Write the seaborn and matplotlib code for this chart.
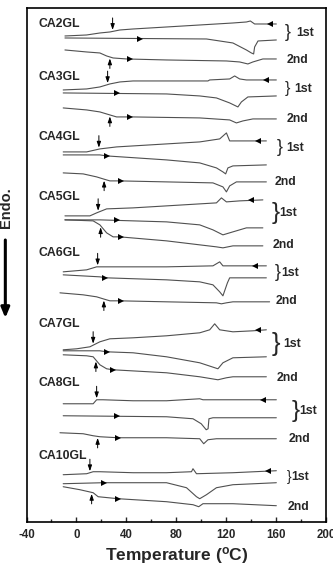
import numpy as np
import pandas as pd
import matplotlib
matplotlib.use("Agg")
import matplotlib.pyplot as plt
from matplotlib.ticker import MultipleLocator
import seaborn as sns

# --------------------------
# DSC traces (T in degC, heat flow in a.u., offset per sample)
# a = 1st cooling (left arrow), b = 1st heating, c = 2nd heating
# --------------------------
samples = ["CA2GL", "CA3GL", "CA4GL", "CA5GL", "CA6GL", "CA7GL", "CA8GL", "CA10GL"]

ca2_a_t = [-9.2, 8.2, 18.8, 26.8, 34.8, 45.4, 72.2, 98.8, 125.4, 136.2, 139.4, 142.8, 160.2]
ca2_a = [48.6, 48.7, 48.9, 49.0, 49.2, 49.3, 49.5, 49.7, 49.9, 50.0, 50.1, 49.8, 49.8]
ca2_b_t = [-9.2, 104.2, 125.4, 136.2, 140.2, 142.0, 142.8, 145.5, 160.2]
ca2_b = [48.4, 48.3, 47.9, 47.2, 46.9, 46.8, 47.5, 48.1, 48.2]
ca2_c_t = [-9.2, 8.2, 18.8, 24.2, 29.4, 40.2, 72.2, 120.2, 130.8, 137.4, 141.4, 149.4, 160.2]
ca2_c = [47.2, 47.0, 46.9, 46.6, 46.4, 46.3, 46.2, 46.1, 46.0, 45.8, 46.0, 46.3, 46.3]

ca3_a_t = [-10.6, 8.2, 18.8, 26.8, 34.8, 45.4, 72.2, 105.4, 106.8, 122.8, 126.8, 130.8, 136.2, 160.2]
ca3_a = [43.2, 43.3, 43.5, 43.8, 44.0, 44.1, 44.1, 44.1, 44.2, 44.3, 44.6, 44.3, 44.2, 44.2]
ca3_b_t = [-10.6, 72.2, 98.8, 112.2, 122.8, 129.4, 132.2, 137.4, 160.2]
ca3_b = [42.9, 42.8, 42.6, 42.4, 41.9, 41.5, 42.0, 42.5, 42.6]
ca3_c_t = [-10.6, 8.2, 18.8, 26.8, 32.2, 45.4, 98.8, 122.8, 128.2, 133.4, 141.4, 160.2]
ca3_c = [41.4, 41.2, 41.0, 40.7, 40.5, 40.5, 40.4, 40.2, 39.9, 40.1, 40.3, 40.3]

ca4_a_t = [-10.6, 8.2, 18.8, 32.2, 58.8, 98.8, 114.8, 120.2, 122.8, 152.2]
ca4_a = [37.0, 37.0, 37.3, 37.5, 37.7, 38.0, 38.3, 38.9, 38.1, 38.1]
ca4_b_t = [-10.6, 18.8, 24.2, 72.2, 98.8, 112.2, 117.4, 119.6, 121.4, 125.4, 152.2]
ca4_b = [36.7, 36.7, 36.6, 36.2, 35.9, 35.4, 35.0, 34.8, 35.4, 35.6, 35.7]
ca4_c_t = [-10.6, 5.4, 16.2, 21.4, 26.8, 34.8, 72.2, 109.4, 117.4, 120.2, 122.8, 128.2, 152.2]
ca4_c = [34.9, 34.8, 34.5, 34.3, 34.1, 34.1, 34.0, 33.9, 33.5, 33.0, 33.6, 34.0, 34.0]

ca5_a_t = [-9.2, 10.8, 16.2, 24.2, 45.4, 72.2, 98.8, 112.2, 116.2, 120.2, 130.8, 149.4]
ca5_a = [30.6, 30.6, 30.9, 31.3, 31.4, 31.6, 31.8, 31.9, 32.4, 32.0, 32.1, 32.2]
ca5_b_t = [-9.2, 18.8, 72.2, 98.8, 109.4, 117.4, 125.4, 136.2, 149.4]
ca5_b = [30.2, 30.2, 30.0, 29.7, 29.2, 28.7, 29.0, 29.4, 29.4]
ca5_c_t = [-9.2, 13.4, 18.8, 24.2, 29.4, 34.8, 72.2, 98.8, 112.2, 117.4, 125.4, 149.4]
ca5_c = [30.2, 30.1, 29.7, 28.9, 28.5, 28.5, 28.1, 27.7, 27.5, 27.4, 27.6, 27.6]

ca6_a_t = [-10.6, 8.2, 16.2, 24.2, 72.2, 109.4, 114.8, 117.4, 152.2]
ca6_a = [25.0, 25.2, 25.5, 25.5, 25.5, 25.6, 26.0, 25.6, 25.6]
ca6_b_t = [-10.6, 18.8, 24.2, 72.2, 98.8, 109.4, 114.8, 117.4, 121.0, 122.8, 152.2]
ca6_b = [24.7, 24.5, 24.4, 24.2, 24.0, 23.7, 23.0, 22.6, 23.9, 24.4, 24.4]
ca6_c_t = [-13.2, 5.4, 16.2, 21.4, 26.8, 34.8, 72.2, 112.2, 116.2, 120.2, 125.4, 154.8]
ca6_c = [22.9, 22.7, 22.5, 22.3, 22.1, 22.1, 22.0, 21.9, 21.8, 21.9, 22.0, 22.0]

ca7_a_t = [-10.6, 0.2, 10.8, 18.8, 26.8, 45.4, 72.2, 98.8, 106.8, 110.8, 114.8, 125.4, 141.4, 152.2]
ca7_a = [17.2, 17.3, 17.5, 18.0, 18.3, 18.4, 18.6, 18.9, 19.2, 19.8, 19.2, 19.0, 19.1, 19.2]
ca7_b_t = [-10.6, 18.8, 24.2, 45.4, 72.2, 98.8, 113.4, 117.4, 125.4, 152.2]
ca7_b = [17.1, 17.1, 17.0, 16.9, 16.5, 15.9, 15.3, 15.9, 16.4, 16.5]
ca7_c_t = [-10.6, 8.2, 13.4, 18.8, 24.2, 29.4, 72.2, 98.8, 113.4, 120.2, 125.4, 152.2]
ca7_c = [16.7, 16.6, 16.5, 15.7, 15.3, 15.2, 14.9, 14.5, 14.2, 14.4, 14.5, 14.5]

ca8_a_t = [-10.6, 13.4, 16.2, 21.4, 45.4, 72.2, 98.8, 101.4, 152.2, 160.2]
ca8_a = [11.8, 11.8, 12.2, 12.2, 12.1, 12.1, 12.3, 12.2, 12.2, 12.2]
ca8_b_t = [-10.6, 72.2, 93.4, 100.0, 104.0, 105.5, 106.2, 109.4, 160.2]
ca8_b = [10.6, 10.5, 10.3, 9.8, 9.2, 9.3, 10.3, 10.4, 10.4]
ca8_c_t = [-13.2, 5.4, 13.4, 18.8, 33.4, 72.2, 98.8, 102.0, 105.4, 112.2, 160.2]
ca8_c = [8.9, 8.8, 8.6, 8.5, 8.4, 8.4, 8.3, 7.8, 8.2, 8.3, 8.3]

ca10_a_t = [-10.6, 8.2, 13.4, 18.8, 45.4, 53.4, 72.2, 92.2, 93.4, 96.2, 125.4, 160.2]
ca10_a = [4.7, 4.8, 5.0, 5.0, 4.9, 4.9, 4.9, 5.0, 5.3, 4.8, 4.9, 5.1]
ca10_b_t = [-10.6, 21.4, 72.2, 88.2, 96.2, 98.8, 104.2, 112.2, 125.4, 160.2]
ca10_b = [3.8, 3.9, 3.9, 3.4, 2.5, 2.3, 2.7, 3.4, 3.7, 3.9]
ca10_c_t = [-10.6, 2.8, 13.4, 17.4, 33.4, 72.2, 93.4, 98.0, 101.4, 125.4, 160.2]
ca10_c = [3.5, 3.2, 2.9, 2.5, 2.3, 2.0, 1.7, 1.5, 1.8, 1.8, 1.6]

# Tg marks (down arrow on 1st cooling, up arrow under 2nd heating)
tg_down = [29.0, 25.0, 18.0, 17.4, 17.0, 13.4, 16.2, 10.8]
tg_up = [26.8, 26.8, 22.2, 19.4, 22.0, 15.6, 17.0, 12.2]

# scan direction marks on each trace
dir_a = [154.8, 152.2, 145.2, 140.2, 142.8, 145.4, 149.4, 153.4]
dir_b = [50.8, 32.2, 24.2, 32.2, 22.8, 24.2, 32.2, 22.0]
dir_c = [42.8, 42.8, 35.4, 35.4, 35.4, 29.4, 33.4, 33.4]

# annotation text placement
label_y = [49.8, 44.5, 38.5, 32.5, 26.9, 19.8, 13.9, 6.6]
brace_x = [166.8, 166.8, 160.2, 156.2, 158.8, 156.2, 172.2, 168.2]
brace_y = [48.9, 43.3, 37.4, 30.9, 24.9, 17.8, 11.1, 4.5]
brace_size = [13, 11.5, 13, 17.5, 13, 18.5, 17.5, 10]
first_x = [176.2, 174.8, 168.2, 162.8, 164.2, 165.4, 178.8, 172.2]
second_x = [168.2, 168.2, 158.8, 157.4, 159.6, 160.2, 170.2, 169.4]
second_y = [46.2, 40.3, 34.0, 27.7, 22.1, 14.4, 8.3, 1.5]

traces = {
    "CA2GL": [(ca2_a_t, ca2_a), (ca2_b_t, ca2_b), (ca2_c_t, ca2_c)],
    "CA3GL": [(ca3_a_t, ca3_a), (ca3_b_t, ca3_b), (ca3_c_t, ca3_c)],
    "CA4GL": [(ca4_a_t, ca4_a), (ca4_b_t, ca4_b), (ca4_c_t, ca4_c)],
    "CA5GL": [(ca5_a_t, ca5_a), (ca5_b_t, ca5_b), (ca5_c_t, ca5_c)],
    "CA6GL": [(ca6_a_t, ca6_a), (ca6_b_t, ca6_b), (ca6_c_t, ca6_c)],
    "CA7GL": [(ca7_a_t, ca7_a), (ca7_b_t, ca7_b), (ca7_c_t, ca7_c)],
    "CA8GL": [(ca8_a_t, ca8_a), (ca8_b_t, ca8_b), (ca8_c_t, ca8_c)],
    "CA10GL": [(ca10_a_t, ca10_a), (ca10_b_t, ca10_b), (ca10_c_t, ca10_c)],
}

rows = []
for s in samples:
    for run, (t, y) in zip(["a", "b", "c"], traces[s]):
        for ti, yi in zip(t, y):
            rows.append({"trace": s + run, "T": ti, "signal": yi})
df = pd.DataFrame(rows)

# --------------------------
# Plot
# --------------------------
sns.set_style("ticks")
plt.rcParams["font.family"] = ["Liberation Sans", "DejaVu Sans"]
plt.rcParams["font.weight"] = "bold"
plt.rcParams["axes.unicode_minus"] = False
plt.rcParams["mathtext.fontset"] = "custom"
plt.rcParams["mathtext.rm"] = "Liberation Sans:bold"

fig = plt.figure(figsize=(3.33, 5.67), dpi=100)
ax = fig.add_axes([0.0796, 0.0799, 0.8994, 0.9060])

sns.lineplot(data=df, x="T", y="signal", units="trace", estimator=None, sort=False,
             color="#505050", lw=0.8, ax=ax, legend=False)

for i, s in enumerate(samples):
    (ta, ya), (tb, yb), (tc, yc) = traces[s]
    # scan direction heads
    ax.plot(dir_a[i], np.interp(dir_a[i], ta, ya), marker="<", ms=4.2, color="k", mew=0)
    ax.plot(dir_b[i], np.interp(dir_b[i], tb, yb), marker=">", ms=4.2, color="k", mew=0)
    ax.plot(dir_c[i], np.interp(dir_c[i], tc, yc), marker=">", ms=4.2, color="k", mew=0)
    # Tg arrows
    yd = np.interp(tg_down[i], ta, ya)
    ax.annotate("", xy=(tg_down[i], yd + 0.15), xytext=(tg_down[i], yd + 1.35),
                arrowprops=dict(arrowstyle="-|>,head_width=0.12,head_length=0.35",
                                lw=0.7, color="k", shrinkA=0, shrinkB=0))
    yu = np.interp(tg_up[i], tc, yc)
    ax.annotate("", xy=(tg_up[i], yu - 0.15), xytext=(tg_up[i], yu - 1.15),
                arrowprops=dict(arrowstyle="-|>,head_width=0.12,head_length=0.35",
                                lw=0.7, color="k", shrinkA=0, shrinkB=0))
    # texts
    ax.text(-30.4, label_y[i], s, fontsize=8.8, fontweight="bold", ha="left", va="center")
    ax.text(brace_x[i], brace_y[i], "}", fontsize=brace_size[i], fontweight="normal",
            ha="left", va="center")
    ax.text(first_x[i], brace_y[i], "1st", fontsize=8.8, fontweight="bold", ha="left", va="center")
    ax.text(second_x[i], second_y[i], "2nd", fontsize=8.8, fontweight="bold", ha="left", va="center")

ax.set_xlim(-40, 200)
ax.set_ylim(0, 51.4)
ax.set_yticks([])
ax.xaxis.set_major_locator(MultipleLocator(40))
ax.xaxis.set_minor_locator(MultipleLocator(20))
ax.tick_params(axis="x", which="both", direction="in", top=False, width=1.0)
ax.tick_params(axis="x", which="major", length=3.5, labelsize=8.3, pad=5)
ax.tick_params(axis="x", which="minor", length=2.5)
for lab in ax.get_xticklabels():
    lab.set_fontweight("bold")
for sp in ax.spines.values():
    sp.set_linewidth(1.2)
    sp.set_color("k")

ax.set_xlabel(r"Temperature ($\mathrm{^{o}}$C)", fontsize=12.5, fontweight="bold", labelpad=3)
ax.set_ylabel("")

# Endo. label with downward arrow on the left
fig.text(0.018, 1 - 208 / 567, "Endo.", rotation=90, fontsize=10.5, fontweight="bold",
         ha="center", va="center")
ax.annotate("", xy=(0.016, 1 - 318 / 567), xytext=(0.016, 1 - 240 / 567),
            xycoords="figure fraction", textcoords="figure fraction",
            arrowprops=dict(arrowstyle="-|>,head_width=0.25,head_length=0.6",
                            lw=2.2, color="k", shrinkA=0, shrinkB=0))

fig.savefig("out.png", dpi=100)
